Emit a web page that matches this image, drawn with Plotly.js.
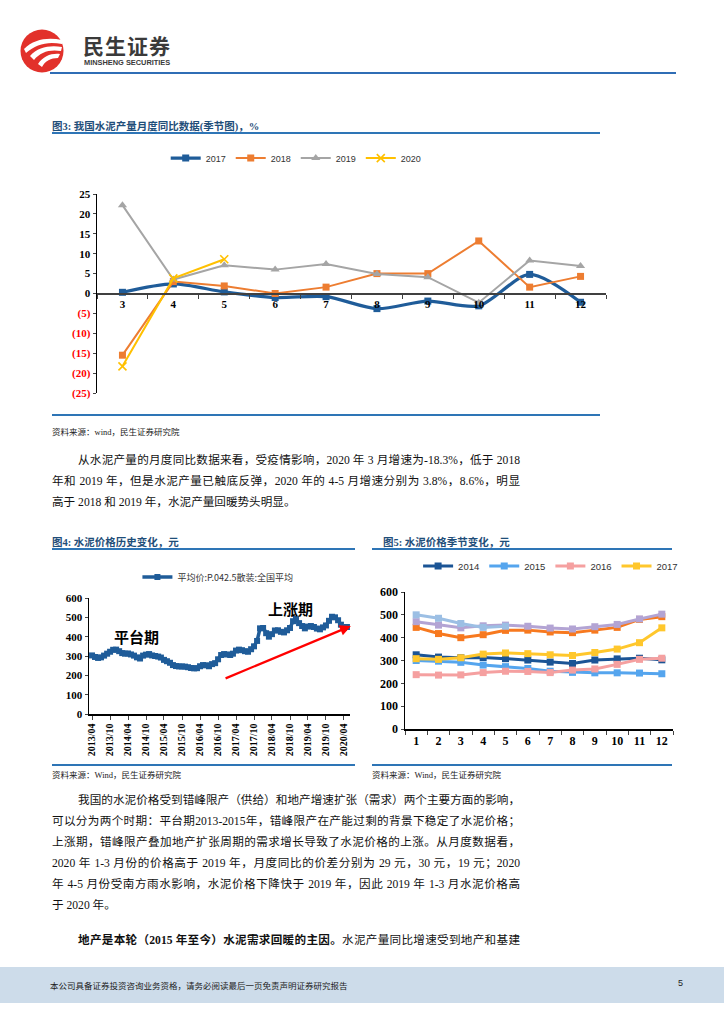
<!DOCTYPE html>
<html><head><meta charset="utf-8">
<script src="https://cdn.plot.ly/plotly-3.0.1.min.js"></script>
<style>
body{margin:0;background:#fff;}
#page{position:relative;width:724px;height:1024px;overflow:hidden;background:#fff;font-family:"Liberation Serif","Noto Sans CJK SC",serif;color:#111;}
.abs{position:absolute;}
.ftitle{font-family:"Liberation Serif","Noto Sans CJK SC";font-weight:bold;font-size:10.5px;color:#1F4E79;white-space:nowrap;}
.rule{position:absolute;height:2px;background:#2E75B6;}
.src{font-size:8.5px;color:#222;white-space:nowrap;}
.ln{position:absolute;left:52px;width:468px;font-size:11.6px;white-space:nowrap;text-align:justify;text-align-last:justify;line-height:14px;}
.ln.last{text-align-last:left;}
.ind{left:78px;width:442px;}
.chart{position:absolute;}
</style></head>
<body><div id="page">
<svg class="abs" style="left:18px;top:27px" width="50" height="48" viewBox="0 0 50 48">
<circle cx="24" cy="24" r="21.5" fill="#E2312B"/>
<path d="M6 22 C16 12,30 10,44 13 L44 17 C30 14,18 17,8 26 Z" fill="#fff"/>
<path d="M12 29 C20 20,32 18,44 20 L43 24 C32 22,22 25,16 33 Z" fill="#fff"/>
<path d="M20 37 C25 29,34 26,42 27 L40 31 C33 31,27 34,24 40 Z" fill="#fff"/>
</svg>
<div class="abs" style="left:83px;top:35px;font-family:'Noto Sans CJK SC';font-weight:bold;font-size:21px;line-height:21px;color:#3a3a3a;letter-spacing:1px;white-space:nowrap;">民生证券</div>
<div class="abs" style="left:84px;top:59px;font-family:'Liberation Sans';font-weight:bold;font-size:7.4px;line-height:8px;color:#3a3a3a;white-space:nowrap;">MINSHENG SECURITIES</div>
<div class="rule" style="left:50px;top:72px;width:626px;height:2px;background:#2F6DB5;"></div>

<div class="abs ftitle" style="left:52px;top:118px;">图3: 我国水泥产量月度同比数据(季节图)，%</div>
<div class="rule" style="left:52px;top:132px;width:548px;height:1.5px;"></div>
<div id="c1" class="chart" style="left:40px;top:140px;width:600px;height:270px;"></div>
<div class="rule" style="left:52px;top:414px;width:548px;height:1.5px;"></div>
<div class="abs src" style="left:52px;top:425px;">资料来源：wind，民生证券研究院</div>

<div class="ln ind" style="top:454px;">从水泥产量的月度同比数据来看，受疫情影响，2020 年 3 月增速为-18.3%，低于 2018</div>
<div class="ln" style="top:475px;">年和 2019 年，但是水泥产量已触底反弹，2020 年的 4-5 月增速分别为 3.8%，8.6%，明显</div>
<div class="ln last" style="top:496px;">高于 2018 和 2019 年，水泥产量回暖势头明显。</div>

<div class="abs ftitle" style="left:52px;top:534px;">图4: 水泥价格历史变化，元</div>
<div class="rule" style="left:52px;top:548px;width:303px;height:1.5px;"></div>
<div class="abs ftitle" style="left:383px;top:534px;">图5: 水泥价格季节变化，元</div>
<div class="rule" style="left:372px;top:548px;width:300px;height:1.5px;"></div>
<div id="c4" class="chart" style="left:40px;top:558px;width:320px;height:212px;"></div>
<div id="c5" class="chart" style="left:365px;top:553px;width:320px;height:212px;"></div>
<div class="rule" style="left:52px;top:764px;width:303px;height:1.5px;"></div>
<div class="rule" style="left:372px;top:764px;width:300px;height:1.5px;"></div>
<div class="abs src" style="left:52px;top:768px;">资料来源：Wind，民生证券研究院</div>
<div class="abs src" style="left:372px;top:768px;">资料来源：Wind，民生证券研究院</div>

<div class="ln ind" style="top:794px;">我国的水泥价格受到错峰限产（供给）和地产增速扩张（需求）两个主要方面的影响，</div>
<div class="ln" style="top:815px;">可以分为两个时期：平台期2013-2015年，错峰限产在产能过剩的背景下稳定了水泥价格；</div>
<div class="ln" style="top:836px;">上涨期，错峰限产叠加地产扩张周期的需求增长导致了水泥价格的上涨。从月度数据看，</div>
<div class="ln" style="top:857px;">2020 年 1-3 月份的价格高于 2019 年，月度同比的价差分别为 29 元，30 元，19 元；2020</div>
<div class="ln" style="top:878px;">年 4-5 月份受南方雨水影响，水泥价格下降快于 2019 年，因此 2019 年 1-3 月水泥价格高</div>
<div class="ln last" style="top:899px;">于 2020 年。</div>
<div class="ln ind" style="top:934px;"><b>地产是本轮（2015 年至今）水泥需求回暖的主因。</b>水泥产量同比增速受到地产和基建</div>

<div class="abs" style="left:0;top:967px;width:724px;height:36px;background:#CDDCEA;"></div>
<div class="abs" style="left:50px;top:979px;font-family:'Noto Sans CJK SC';font-size:8.5px;color:#222;white-space:nowrap;">本公司具备证券投资咨询业务资格，请务必阅读最后一页免责声明证券研究报告</div>
<div class="abs" style="left:678px;top:978px;font-family:'Liberation Sans';font-size:9px;color:#222;">5</div>
</div>
<script>
// ---------- Figure 3 data ----------
const months1 = ['3','4','5','6','7','8','9','10','11','12'];
const yoy2017 = [0.3, 2.4, 0.4, -1.0, -0.8, -3.8, -1.9, -3.1, 4.8, -2.2];
const yoy2018 = [-15.5, 3.0, 1.9, 0.0, 1.6, 5.0, 5.0, 13.2, 1.6, 4.3];
const yoy2019 = [22.2, 3.5, 7.1, 6.0, 7.4, 4.9, 4.1, -2.3, 8.3, 6.9];
const yoy2020 = [-18.3, 3.8, 8.6];
const yTicks1 = [25, 20, 15, 10, 5, 0, -5, -10, -15, -20, -25];
const yTickText1 = ['25','20','15','10','5','0','(5)','(10)','(15)','(20)','(25)'];

// ---------- Figure 5 data (monthly price, yuan) ----------
const months5 = ['1','2','3','4','5','6','7','8','9','10','11','12'];
const p2013 = [303, 295, 290, 293, 302, 312, 322, 332, 333]; // Apr-Dec
const p2014 = [325, 315, 312, 313, 308, 302, 293, 287, 302, 307, 310, 303];
const p2015 = [300, 297, 292, 280, 273, 265, 253, 248, 246, 246, 245, 242];
const p2016 = [238, 236, 237, 247, 253, 252, 247, 258, 263, 283, 305, 310];
const p2017 = [308, 305, 312, 328, 333, 330, 325, 322, 335, 350, 378, 443];
const p2018 = [445, 418, 400, 413, 432, 433, 425, 422, 433, 445, 480, 492];
const p2019 = [470, 455, 443, 452, 455, 450, 442, 438, 448, 458, 482, 503];
const p2020 = [500, 485, 462, 445, 450];

// ---------- Figure 4 tick labels ----------
const histTickLabels = ['2013/04','2013/10','2014/04','2014/10','2015/04','2015/10','2016/04','2016/10','2017/04','2017/10','2018/04','2018/10','2019/04','2019/10','2020/04'];

const cfg = {displayModeBar:false, staticPlot:true};
const serif = 'Liberation Serif';

// ===== Chart 1 =====
(function(){
  const mk = (name, y, color, lw, sym, ms, shape) => ({
    type:'scatter', mode:'lines+markers', name:name, x:months1.slice(0,y.length), y:y,
    line:{color:color, width:lw, shape:shape||'linear', smoothing:0.8},
    marker:{symbol:sym, size:ms, color:color, line:{color:color, width: sym==='x-thin'?1.6:0}}
  });
  const traces = [
    mk('2017', yoy2017, '#1F5C99', 3.2, 'square', 7, 'spline'),
    mk('2018', yoy2018, '#ED7D31', 2, 'square', 7),
    mk('2019', yoy2019, '#A5A5A5', 2, 'triangle-up', 8),
    mk('2020', yoy2020, '#FFC000', 2, 'x-thin', 8)
  ];
  const tt = yTickText1.map((t,i)=> yTicks1[i] < 0 ? '<span style="color:#FF0000">'+t+'</span>' : t);
  Plotly.newPlot('c1', traces, {
    width:600, height:270, margin:{l:57, r:34, t:54, b:17},
    paper_bgcolor:'#fff', plot_bgcolor:'#fff', showlegend:true,
    legend:{orientation:'h', xref:'container', yref:'container', x:0.427, xanchor:'center', y:0.933, yanchor:'middle',
      font:{family:'Liberation Sans', size:9, color:'#333'}, itemwidth:30, tracegroupgap:0},
    xaxis:{type:'category', anchor:'free', position:0.5, showline:true, linecolor:'#404040', linewidth:2,
      ticks:'outside', ticklen:4, tickcolor:'#404040', tickson:'boundaries', showgrid:false, zeroline:false,
      tickfont:{family:serif, size:11, color:'#000', weight:'bold'}, range:[-0.5,9.5]},
    yaxis:{range:[-25,25], tickvals:yTicks1, ticktext:tt, showline:true, linecolor:'#000', linewidth:1.5,
      ticks:'outside', ticklen:3, showgrid:false, zeroline:false,
      tickfont:{family:serif, size:11, color:'#000', weight:'bold'}}
  }, cfg);
})();

// ===== Chart 4 =====
(function(){
  const hist = [].concat(p2013, p2014, p2015, p2016, p2017, p2018, p2019, p2020);
  const dates = [];
  let yr = 2013, mo = 4;
  for (let i=0;i<hist.length;i++){ dates.push(yr+'-'+(mo<10?'0':'')+mo+'-01'); mo++; if(mo>12){mo=1;yr++;} }
  const tickDates = histTickLabels.map(s => s.replace('/','-')+'-01');
  Plotly.newPlot('c4', [{
    type:'scatter', mode:'lines+markers', name:'平均价:P.042.5散装:全国平均', x:dates, y:hist,
    line:{color:'#1F5C99', width:3.5}, marker:{symbol:'square', size:6, color:'#1F5C99'}
  }], {
    width:320, height:212, margin:{l:49, r:10, t:40, b:56},
    paper_bgcolor:'#fff', plot_bgcolor:'#fff', showlegend:true,
    legend:{orientation:'h', xref:'container', yref:'container', x:0.556, xanchor:'center', y:0.91, yanchor:'middle',
      font:{family:'Noto Sans CJK SC', size:9, color:'#333'}, itemwidth:30},
    xaxis:{type:'date', range:['2013-03-01','2020-06-01'], tickvals:tickDates, ticktext:histTickLabels,
      tickangle:-90, showline:true, linecolor:'#000', linewidth:1.5, ticks:'outside', ticklen:4,
      showgrid:false, zeroline:false, tickfont:{family:serif, size:10, color:'#000', weight:'bold'}},
    yaxis:{range:[0,600], dtick:100, showline:true, linecolor:'#000', linewidth:1.5, ticks:'outside', ticklen:3,
      showgrid:false, zeroline:false, tickfont:{family:serif, size:11, color:'#000', weight:'bold'}},
    annotations:[
      {x:'2020-06-10', y:455, xref:'x', yref:'y', ax:'2016-12-01', ay:181, axref:'x', ayref:'y',
        showarrow:true, arrowhead:2, arrowsize:1, arrowwidth:2.2, arrowcolor:'#FF0000', text:''},
      {x:'2014-07-01', y:403, xref:'x', yref:'y', showarrow:false, text:'平台期',
        font:{family:'Noto Sans CJK SC', size:15, color:'#000', weight:'bold'}},
      {x:'2018-10-01', y:548, xref:'x', yref:'y', showarrow:false, text:'上涨期',
        font:{family:'Noto Sans CJK SC', size:15, color:'#000', weight:'bold'}}
    ]
  }, cfg);
})();

// ===== Chart 5 =====
(function(){
  const mk = (name, y, color, show) => ({
    type:'scatter', mode:'lines+markers', name:name, x:months5.slice(0,y.length), y:y, showlegend:show,
    line:{color:color, width:3}, marker:{symbol:'square', size:7, color:color}
  });
  const traces = [
    mk('2014', p2014, '#1B5495', true),
    mk('2015', p2015, '#55A5EE', true),
    mk('2016', p2016, '#F5A0A0', true),
    mk('2017', p2017, '#FFC72C', true),
    mk('2018', p2018, '#F7791F', false),
    mk('2019', p2019, '#B3A4D4', false),
    mk('2020', p2020, '#9CBFE4', false)
  ];
  Plotly.newPlot('c5', traces, {
    width:320, height:212, margin:{l:40, r:12, t:39, b:36},
    paper_bgcolor:'#fff', plot_bgcolor:'#fff', showlegend:true,
    legend:{orientation:'h', xref:'container', yref:'container', x:0.58, xanchor:'center', y:0.939, yanchor:'middle',
      font:{family:'Liberation Sans', size:9.5, color:'#333'}, itemwidth:30},
    xaxis:{type:'category', showline:true, linecolor:'#000', linewidth:1.5, ticks:'outside', ticklen:4,
      tickson:'boundaries', showgrid:false, zeroline:false, range:[-0.5,11.5],
      tickfont:{family:serif, size:12, color:'#000', weight:'bold'}},
    yaxis:{range:[0,600], dtick:100, showline:true, linecolor:'#000', linewidth:1.5, ticks:'outside', ticklen:3,
      showgrid:false, zeroline:false, tickfont:{family:serif, size:12, color:'#000', weight:'bold'}}
  }, cfg);
})();
</script>
</body></html>
